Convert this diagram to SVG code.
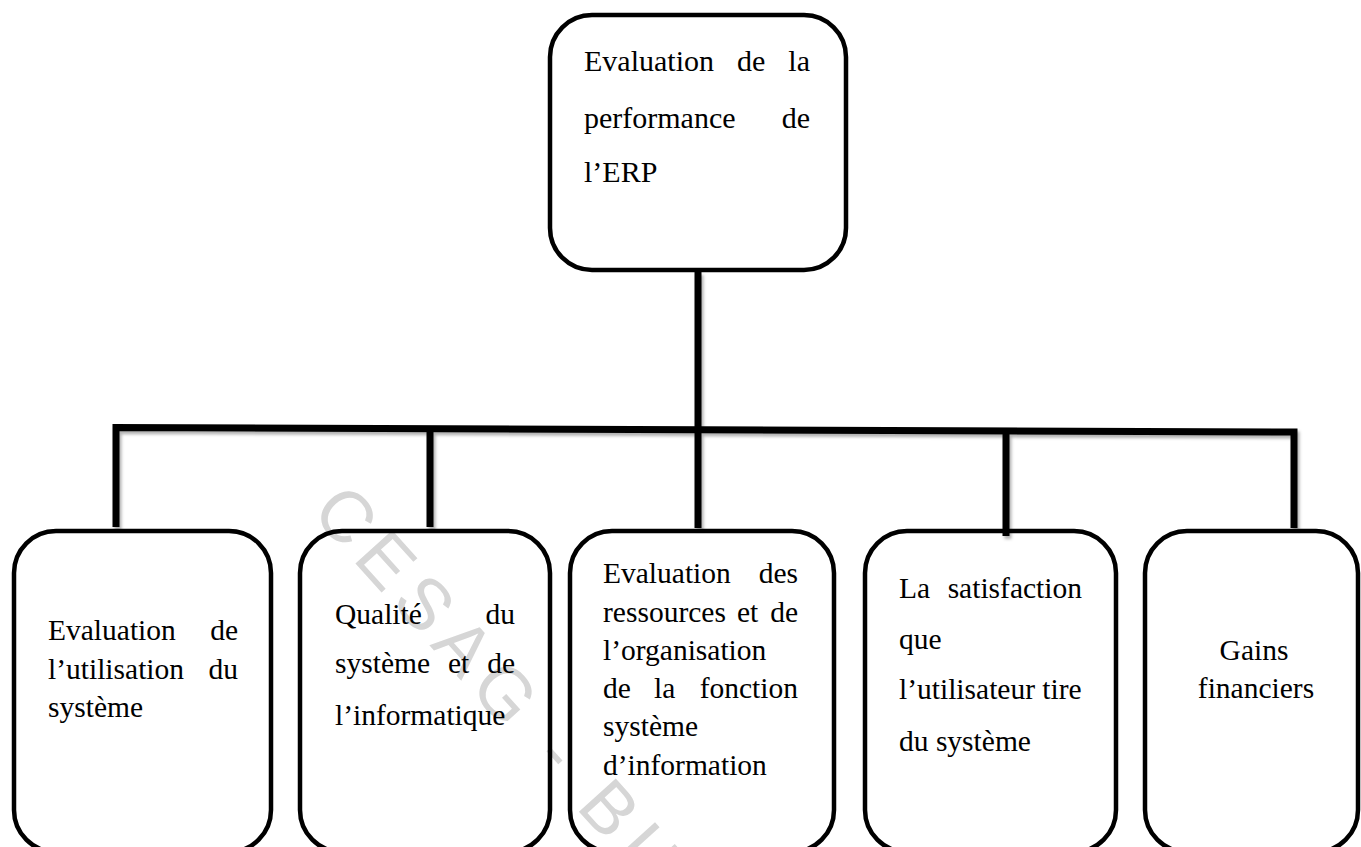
<svg xmlns="http://www.w3.org/2000/svg" width="1361" height="847" viewBox="0 0 1361 847">
  <style>
    .box { fill: none; stroke: #000; stroke-width: 4.5; }
    .wire { fill: none; stroke: #000; stroke-width: 7; stroke-linecap: butt; stroke-linejoin: miter; }
    .lbl { font-family: "Liberation Serif", "Times New Roman", serif; font-size: 29.5px; fill: #000; }
    .top { font-size: 30px; }
    .end { text-anchor: end; }
    .mid { text-anchor: middle; }
    .mark { font-family: "Liberation Sans", Arial, sans-serif; font-size: 72px; letter-spacing: 10px; fill: #d6d6d6; }
  </style>
  <defs>
    <filter id="shade" x="-5%" y="-5%" width="110%" height="120%">
      <feDropShadow dx="2" dy="3" stdDeviation="1.5" flood-color="#000" flood-opacity="0.3"/>
    </filter>
  </defs>

  <rect width="1361" height="847" fill="#fff"/>

  <!-- library stamp -->
  <text class="mark" transform="translate(310,513) rotate(48)">CESAG - BIB</text>

  <!-- connectors -->
  <g id="connectors" class="wire" filter="url(#shade)">
    <line x1="698" y1="272" x2="698" y2="528"/>
    <path d="M116 527 V427.5 L1294 432 V528"/>
    <line x1="430" y1="428.5" x2="430" y2="527"/>
    <line x1="1006" y1="431" x2="1006" y2="536"/>
  </g>

  <!-- root -->
  <g id="root">
    <rect class="box" x="550" y="15" width="296" height="255" rx="42"/>
    <text class="lbl top"><tspan x="584" y="71">Evaluation</tspan><tspan x="737" y="71">de</tspan><tspan x="810" y="71" class="end">la</tspan></text>
    <text class="lbl top"><tspan x="584" y="128">performance</tspan><tspan x="810" y="128" class="end">de</tspan></text>
    <text class="lbl top" x="584" y="182">l’ERP</text>
  </g>

  <!-- usage -->
  <g id="utilisation">
    <rect class="box" x="14" y="531" width="257" height="321" rx="42"/>
    <text class="lbl"><tspan x="48" y="640">Evaluation</tspan><tspan x="238" y="640" class="end">de</tspan></text>
    <text class="lbl"><tspan x="48" y="679">l’utilisation</tspan><tspan x="238" y="679" class="end">du</tspan></text>
    <text class="lbl" x="48" y="717">système</text>
  </g>

  <!-- system quality -->
  <g id="qualite">
    <rect class="box" x="300" y="531" width="250" height="321" rx="42"/>
    <text class="lbl"><tspan x="335" y="624">Qualité</tspan><tspan x="515" y="624" class="end">du</tspan></text>
    <text class="lbl"><tspan x="335" y="673">système</tspan><tspan x="448" y="673">et</tspan><tspan x="515" y="673" class="end">de</tspan></text>
    <text class="lbl" x="335" y="725">l’informatique</text>
  </g>

  <!-- IS resources -->
  <g id="ressources">
    <rect class="box" x="570" y="531" width="264" height="321" rx="42"/>
    <text class="lbl"><tspan x="603" y="583">Evaluation</tspan><tspan x="798" y="583" class="end">des</tspan></text>
    <text class="lbl"><tspan x="603" y="622">ressources</tspan><tspan x="737" y="622">et</tspan><tspan x="798" y="622" class="end">de</tspan></text>
    <text class="lbl" x="603" y="660">l’organisation</text>
    <text class="lbl"><tspan x="603" y="698">de</tspan><tspan x="654" y="698">la</tspan><tspan x="798" y="698" class="end">fonction</tspan></text>
    <text class="lbl" x="603" y="736">système</text>
    <text class="lbl" x="603" y="775">d’information</text>
  </g>

  <!-- user satisfaction -->
  <g id="satisfaction">
    <rect class="box" x="865" y="531" width="251" height="321" rx="42"/>
    <text class="lbl"><tspan x="899" y="598">La</tspan><tspan x="1082" y="598" class="end">satisfaction</tspan></text>
    <text class="lbl" x="899" y="649">que</text>
    <text class="lbl" x="899" y="699">l’utilisateur tire</text>
    <text class="lbl" x="899" y="751">du système</text>
  </g>

  <!-- financial gains -->
  <g id="gains">
    <rect class="box" x="1145" y="531" width="213" height="321" rx="42"/>
    <text class="lbl mid" x="1254" y="660">Gains</text>
    <text class="lbl mid" x="1256" y="698">financiers</text>
  </g>
</svg>
